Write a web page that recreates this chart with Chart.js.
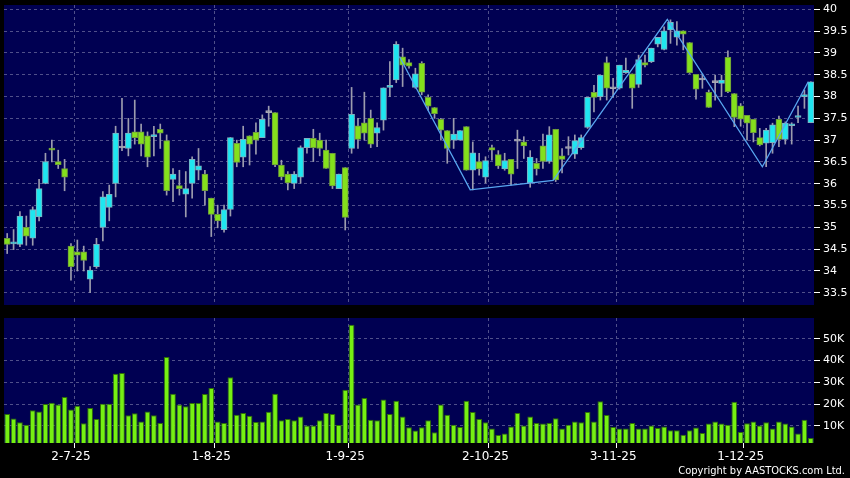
<!DOCTYPE html>
<html>
<head>
<meta charset="utf-8">
<script src="https://cdn.jsdelivr.net/npm/chart.js@4.4.1/dist/chart.umd.min.js"></script>
<style>
    html, body { margin: 0; padding: 0; background: #000; }
    #wrap { position: relative; width: 850px; height: 478px; overflow: hidden; }
    #priceBox { position: absolute; left: 0; top: 0; width: 850px; height: 310px; }
    #volBox { position: absolute; left: 0; top: 312px; width: 850px; height: 166px; }
    #copy { position: absolute; right: 5px; top: 464px; color: #fff; font: 11px 'DejaVu Sans Condensed', 'DejaVu Sans'; line-height: 13px; }
</style>
</head>
<body>
<div id="wrap">
    <div id="priceBox"><canvas id="priceChart"></canvas></div>
    <div id="volBox"><canvas id="volChart"></canvas></div>
    <div id="copy">Copyright by AASTOCKS.com Ltd.</div>
</div>
<script>
// trading days shown on the chart
const dates = [
    '17-6-25','18-6-25','19-6-25','20-6-25','23-6-25','24-6-25','25-6-25','26-6-25','27-6-25','30-6-25',
    '2-7-25','3-7-25','4-7-25','7-7-25','8-7-25','9-7-25','10-7-25','11-7-25','14-7-25','15-7-25','16-7-25',
    '17-7-25','18-7-25','21-7-25','22-7-25','23-7-25','24-7-25','25-7-25','28-7-25','29-7-25','30-7-25','31-7-25',
    '1-8-25','4-8-25','5-8-25','6-8-25','7-8-25','8-8-25','11-8-25','12-8-25','13-8-25','14-8-25','15-8-25',
    '18-8-25','19-8-25','20-8-25','21-8-25','22-8-25','25-8-25','26-8-25','27-8-25','28-8-25','29-8-25',
    '1-9-25','2-9-25','3-9-25','4-9-25','5-9-25','8-9-25','9-9-25','10-9-25','11-9-25','12-9-25','15-9-25',
    '16-9-25','17-9-25','18-9-25','19-9-25','22-9-25','23-9-25','24-9-25','25-9-25','26-9-25','29-9-25','30-9-25',
    '2-10-25','3-10-25','6-10-25','8-10-25','9-10-25','10-10-25','13-10-25','14-10-25','15-10-25','16-10-25',
    '17-10-25','20-10-25','21-10-25','22-10-25','23-10-25','24-10-25','27-10-25','28-10-25','30-10-25','31-10-25',
    '3-11-25','4-11-25','5-11-25','6-11-25','7-11-25','10-11-25','11-11-25','12-11-25','13-11-25','14-11-25',
    '17-11-25','18-11-25','19-11-25','20-11-25','21-11-25','24-11-25','25-11-25','26-11-25','27-11-25','28-11-25',
    '1-12-25','2-12-25','3-12-25','4-12-25','5-12-25','8-12-25','9-12-25','10-12-25','11-12-25','12-12-25',
    '15-12-25','16-12-25'
];
const labelDays = ['2-7-25', '1-8-25', '1-9-25', '2-10-25', '3-11-25', '1-12-25'];

const openP = [
    34.75, 34.62, 34.61, 35.00, 34.75, 35.24, 36.01, 36.79, 36.51, 36.35,
    34.57, 34.44, 34.44, 33.81, 34.10, 35.00, 35.46, 36.01, 36.82, 36.81,
    37.19, 37.19, 37.10, 37.08, 37.25, 36.99, 36.10, 35.96, 35.76, 36.01,
    36.31, 36.22, 35.67, 35.30, 34.95, 35.41, 36.93, 36.61, 37.10, 37.18,
    37.06, 37.63, 37.63, 36.43, 36.22, 36.01, 36.15, 36.83, 37.04, 37.00,
    36.77, 36.70, 35.89, 36.37, 36.81, 37.33, 37.40, 37.50, 37.16, 37.46,
    38.21, 38.38, 38.91, 38.78, 38.21, 38.76, 37.98, 37.75, 37.48, 37.22,
    37.00, 37.00, 37.31, 36.31, 36.51, 36.15, 36.83, 36.67, 36.34, 36.56,
    36.98, 36.96, 36.02, 36.47, 36.87, 36.51, 37.25, 36.64, 36.81, 36.68,
    36.83, 37.29, 38.10, 38.00, 38.78, 38.18, 38.19, 38.55, 38.52, 38.28,
    38.78, 38.80, 39.20, 39.08, 39.53, 39.36, 39.51, 39.24, 38.51, 38.38,
    38.10, 38.32, 38.30, 38.90, 38.07, 37.79, 37.57, 37.48, 37.06, 36.93,
    36.94, 37.48, 37.02, 37.33, 37.52, 38.00, 37.40
];
const highP = [
    34.86, 34.95, 35.36, 35.26, 35.47, 36.10, 36.70, 37.00, 36.77, 36.56,
    34.63, 34.71, 34.57, 34.10, 34.75, 35.82, 35.97, 37.32, 37.96, 37.50,
    37.92, 37.37, 37.19, 37.32, 37.37, 37.12, 36.35, 36.31, 36.28, 36.62,
    36.81, 36.31, 35.67, 35.51, 35.51, 37.06, 37.00, 37.32, 37.10, 37.40,
    37.58, 37.78, 37.63, 36.54, 36.28, 36.28, 36.87, 37.04, 37.25, 37.16,
    37.00, 36.70, 36.22, 36.37, 38.21, 37.50, 38.10, 37.69, 37.40, 38.20,
    38.80, 39.26, 39.11, 38.85, 38.65, 38.80, 38.04, 37.75, 37.50, 37.22,
    37.50, 37.22, 37.31, 36.96, 36.70, 36.62, 36.89, 36.76, 36.70, 36.56,
    37.23, 37.08, 36.76, 36.58, 37.14, 37.31, 37.25, 36.81, 37.08, 37.12,
    37.12, 37.98, 38.26, 38.49, 38.91, 38.42, 38.72, 38.88, 38.52, 38.95,
    38.95, 39.11, 39.36, 39.60, 39.76, 39.72, 39.51, 39.24, 38.51, 38.52,
    38.15, 38.49, 38.49, 39.05, 38.07, 37.84, 37.57, 37.48, 37.27, 37.27,
    37.39, 37.55, 37.42, 37.40, 37.78, 38.15, 38.34
];
const lowP = [
    34.40, 34.49, 34.56, 34.59, 34.59, 35.15, 36.00, 36.50, 36.35, 35.84,
    33.79, 34.00, 34.00, 33.50, 34.06, 34.69, 35.15, 35.70, 36.76, 36.64,
    36.91, 36.64, 36.39, 36.64, 36.81, 35.74, 35.59, 35.74, 35.24, 35.67,
    36.09, 35.51, 34.79, 34.99, 34.89, 35.26, 36.39, 36.39, 36.43, 36.68,
    37.06, 37.32, 36.39, 36.09, 35.86, 35.89, 36.01, 36.70, 36.51, 36.64,
    36.35, 35.89, 35.89, 34.94, 36.70, 36.81, 37.00, 36.83, 36.85, 37.23,
    38.00, 38.32, 38.23, 38.65, 38.19, 38.04, 37.69, 37.50, 37.00, 36.47,
    36.81, 37.00, 36.31, 35.86, 36.20, 36.02, 36.54, 36.35, 36.31, 35.97,
    36.35, 36.58, 35.92, 36.20, 36.35, 36.47, 36.05, 36.25, 36.66, 36.58,
    36.79, 37.27, 37.65, 37.92, 37.92, 37.98, 38.17, 38.53, 37.73, 38.21,
    38.68, 38.78, 39.14, 39.07, 39.22, 39.18, 39.07, 38.53, 37.94, 38.19,
    37.75, 37.92, 38.00, 38.09, 37.31, 37.32, 37.00, 36.96, 36.87, 36.39,
    36.70, 36.85, 36.91, 36.91, 37.40, 37.73, 37.40
];
const closeP = [
    34.61, 34.65, 35.26, 34.80, 35.41, 35.89, 36.51, 36.77, 36.44, 36.15,
    34.10, 34.36, 34.24, 34.02, 34.61, 35.70, 35.76, 37.16, 36.82, 37.16,
    37.06, 36.91, 36.61, 37.10, 37.16, 35.84, 36.22, 35.89, 35.89, 36.56,
    36.41, 35.84, 35.30, 35.15, 35.41, 37.06, 36.49, 37.02, 36.91, 37.00,
    37.48, 37.63, 36.43, 36.16, 36.02, 36.22, 36.83, 37.04, 36.83, 36.81,
    36.35, 35.95, 36.22, 35.23, 37.59, 37.02, 37.16, 36.91, 37.29, 38.20,
    38.24, 39.20, 38.72, 38.70, 38.52, 38.10, 37.78, 37.61, 37.23, 36.81,
    37.14, 37.22, 36.31, 36.71, 36.34, 36.53, 36.77, 36.41, 36.53, 36.22,
    36.98, 36.87, 36.61, 36.34, 36.51, 37.12, 36.09, 36.56, 36.81, 36.99,
    37.06, 37.98, 37.98, 38.49, 38.19, 38.18, 38.72, 38.60, 38.19, 38.85,
    38.72, 39.11, 39.36, 39.51, 39.70, 39.51, 39.43, 38.55, 38.17, 38.38,
    37.75, 38.32, 38.38, 38.11, 37.52, 37.48, 37.39, 37.17, 36.89, 37.23,
    37.35, 37.02, 37.39, 37.35, 37.54, 38.03, 38.34
];
const volume = [
    15500, 13400, 11700, 10600, 17200, 16600, 20100, 20700, 19900, 23300,
    17500, 19300, 11200, 18200, 13200, 20200, 20200, 34000, 34300, 14900,
    15800, 12100, 16600, 14900, 11400, 41600, 24800, 19800, 19000, 20500,
    20500, 24700, 27400, 12100, 11400, 32300, 15200, 16000, 14700, 11800,
    12100, 16500, 24800, 12600, 13200, 12600, 14400, 10200, 10200, 12600,
    16000, 15500, 10500, 26600, 56400, 19800, 22800, 12900, 12600, 22100,
    15500, 21600, 14400, 9400, 7900, 9400, 12600, 7100, 19800, 15200,
    10600, 9500, 21600, 16400, 13200, 11700, 8800, 5900, 6500, 9800,
    16000, 10200, 14400, 11400, 11100, 11400, 13500, 8800, 10600, 12000,
    11700, 16400, 12100, 21300, 15000, 9500, 8900, 8900, 11400, 8800,
    8800, 10200, 9100, 9800, 8000, 8000, 6000, 8000, 9300, 6800,
    11100, 12100, 11100, 10600, 21100, 7200, 11200, 12000, 10200, 11700,
    8800, 12000, 11100, 9800, 6500, 12900, 4500
];

// zig-zag pattern line (position in candles, price)
const patternX = [61.5, 72.6, 85.6, 103.5, 118.4, 125.6];
const patternY = [38.92, 35.86, 36.08, 39.77, 36.39, 38.34];

const priceTicks = [33.5, 34, 34.5, 35, 35.5, 36, 36.5, 37, 37.5, 38, 38.5, 39, 39.5, 40];
const volTicks = [10000, 20000, 30000, 40000, 50000];

const navy = '#000052';
const gridColor = '#50508a';
const gridIdx = labelDays.map(d => dates.indexOf(d) + 1);

const plotBg = {
    id: 'plotBg',
    beforeDraw(chart) {
        const a = chart.chartArea;
        const ctx = chart.ctx;
        ctx.save();
        ctx.fillStyle = navy;
        ctx.fillRect(a.left, a.top, a.right - a.left, a.bottom - a.top);
        ctx.restore();
    }
};

function noPad(s) {
    s.paddingTop = 0;
    s.paddingBottom = 0;
    s.paddingLeft = 0;
    s.paddingRight = 0;
}

function xAxis(showLabels) {
    return {
        type: 'category',
        offset: true,
        grid: {
            offset: true,
            color: c => gridIdx.includes(c.index) ? gridColor : 'rgba(0,0,0,0)',
            drawTicks: showLabels,
            tickLength: 5,
            tickColor: c => gridIdx.includes(c.index) ? '#ffffff' : 'rgba(0,0,0,0)',
            tickBorderDash: []
        },
        border: { display: false, dash: [3, 3] },
        ticks: {
            display: showLabels,
            autoSkip: false,
            maxRotation: 0,
            color: '#ffffff',
            padding: 2,
            font: { family: 'DejaVu Sans', size: 12 },
            callback: (v, i) => labelDays.includes(dates[i]) ? dates[i] : ''
        },
        afterFit: s => { s.height = showLabels ? 22 : 0; noPad(s); }
    };
}

function yAxis(min, max, tickList, fmt) {
    return {
        position: 'right',
        min: min,
        max: max,
        afterBuildTicks: s => { s.ticks = tickList.map(v => ({ value: v })); },
        afterFit: s => { s.width = 36; noPad(s); },
        grid: { color: gridColor, tickLength: 6, tickColor: '#ffffff', tickBorderDash: [] },
        border: { display: false, dash: [3, 3] },
        ticks: {
            color: '#ffffff',
            padding: 3,
            font: { family: 'DejaVu Sans', size: 11 },
            callback: fmt
        }
    };
}

const bodyFill = openP.map((o, i) => closeP[i] > o ? '#1fe6f0' : (closeP[i] < o ? '#84e01c' : '#a8a8b4'));
const bodyEdge = openP.map((o, i) => closeP[i] > o ? '#7fb0c0' : (closeP[i] < o ? '#6e9a3c' : '#a8a8b4'));

new Chart(document.getElementById('priceChart'), {
    type: 'bar',
    data: {
        labels: dates,
        datasets: [
            {
                data: lowP.map((l, i) => [l, highP[i]]),
                backgroundColor: '#9c9cae',
                barThickness: 1,
                grouped: false,
                order: 3
            },
            {
                data: openP.map((o, i) => [o, closeP[i]]),
                backgroundColor: bodyFill,
                borderColor: bodyEdge,
                borderWidth: 1,
                borderSkipped: false,
                barThickness: 6,
                minBarLength: 2,
                grouped: false,
                order: 2
            },
            {
                type: 'line',
                data: patternX.map((x, i) => ({ x: x, y: patternY[i] })),
                xAxisID: 'xl',
                borderColor: '#58a6f0',
                borderWidth: 1.3,
                pointRadius: 0,
                order: 1
            }
        ]
    },
    options: {
        responsive: true,
        maintainAspectRatio: false,
        animation: false,
        layout: { padding: { left: 4, right: 0, top: 5, bottom: 5 } },
        plugins: { legend: { display: false }, tooltip: { enabled: false } },
        scales: {
            x: xAxis(false),
            // invisible linear axis so the pattern line can sit between candles
            xl: {
                type: 'linear',
                position: 'bottom',
                offset: false,
                min: -0.5,
                max: dates.length - 0.5,
                grid: { display: false, drawTicks: false },
                border: { display: false },
                ticks: { display: false },
                afterFit: s => { s.height = 0; noPad(s); }
            },
            y: yAxis(33.22, 40.1, priceTicks, v => v)
        }
    },
    plugins: [plotBg]
});

new Chart(document.getElementById('volChart'), {
    type: 'bar',
    data: {
        labels: dates,
        datasets: [{
            data: volume,
            backgroundColor: '#76f012',
            borderColor: '#2f6e08',
            borderWidth: 1,
            borderSkipped: false,
            barPercentage: 0.9,
            categoryPercentage: 1
        }]
    },
    options: {
        responsive: true,
        maintainAspectRatio: false,
        animation: false,
        layout: { padding: { left: 4, right: 0, top: 6, bottom: 13 } },
        plugins: { legend: { display: false }, tooltip: { enabled: false } },
        scales: {
            x: xAxis(true),
            y: yAxis(2200, 59500, volTicks, v => (v / 1000) + 'K')
        }
    },
    plugins: [plotBg]
});
</script>
</body>
</html>
